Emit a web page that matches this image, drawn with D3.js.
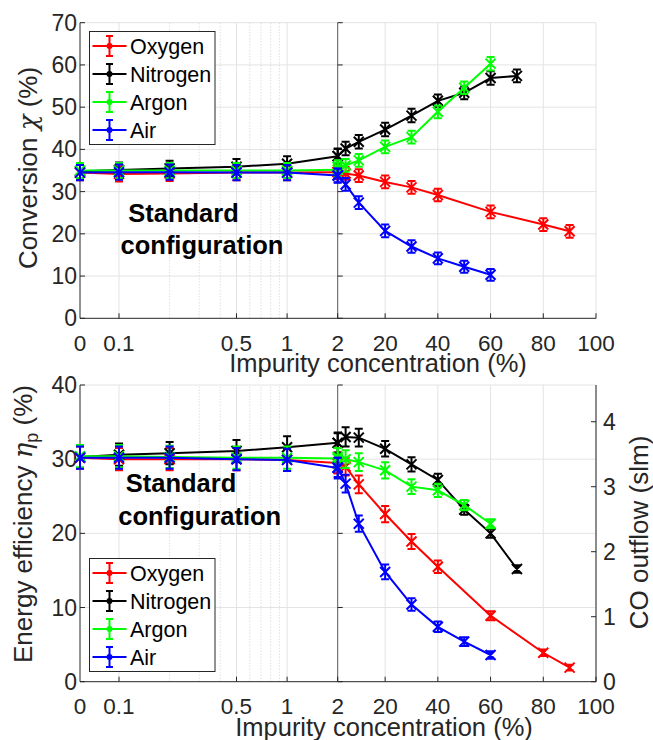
<!DOCTYPE html>
<html><head><meta charset="utf-8">
<script src="https://cdn.jsdelivr.net/npm/d3@7"></script>
<style>body{margin:0;background:#fff}svg{display:block}text{font-family:"Liberation Sans",Arial,Helvetica,sans-serif}</style>
</head><body><svg id="c" width="653" height="740"></svg>
<script>
// ---------- data ----------
const seriesNames = ["Oxygen", "Nitrogen", "Argon", "Air"];
const seriesColors = ["#ff0000", "#000000", "#00ff00", "#0000ff"];

const xLeftVals = [0, 0.1, 0.2, 0.5, 1, 2];
const xRightOxygen = [2, 5, 10, 20, 30, 40, 60, 80, 90];
const xRightNitrogen = [2, 5, 10, 20, 30, 40, 50, 60, 70];
const xRightArgon = [2, 5, 10, 20, 30, 40, 50, 60];
const xRightAir = [2, 5, 10, 20, 30, 40, 50, 60];

const xTicksLeft = [0, 0.1, 0.5, 1];
const xTickLabelsLeft = ["0", "0.1", "0.5", "1"];
const xMinorLeft = [0.2, 0.3, 0.4, 0.6, 0.7, 0.8, 0.9];
const xTicksRight = [2, 20, 40, 60, 80, 100];
const xLogMin = 0.0586;   // axis limit where "0" is drawn
const convTicks = [0, 10, 20, 30, 40, 50, 60, 70];
const effTicks = [0, 10, 20, 30, 40];
const coTicks = [0, 1, 2, 3, 4];
const coMax = 4.565;

// Conversion (%)
const convLeftOxygen = [34.5, 34.2, 34.3, 34.5, 34.5, 34.6];
const convLeftNitrogen = [34.8, 35.1, 35.5, 35.9, 36.6, 38.4];
const convLeftArgon = [35.0, 35.0, 35.0, 35.0, 35.0, 35.2];
const convLeftAir = [34.5, 34.6, 34.6, 34.5, 34.5, 33.8];
const convRightOxygen = [34.7, 34.3, 33.8, 32.3, 31.0, 29.2, 25.2, 22.2, 20.6];
const convRightNitrogen = [38.4, 40.2, 41.8, 44.7, 48.0, 51.5, 53.4, 56.9, 57.4];
const convRightArgon = [35.8, 36.2, 37.4, 40.6, 42.9, 48.9, 54.6, 60.3];
const convRightAir = [33.8, 31.7, 27.4, 20.7, 17.0, 14.2, 12.2, 10.3];

const convErrLeftOxygen = [1.8, 1.8, 1.8, 1.8, 1.8, 1.7];
const convErrLeftNitrogen = [1.8, 1.8, 1.8, 1.8, 1.8, 1.8];
const convErrLeftArgon = [1.8, 1.8, 1.8, 1.8, 1.8, 1.7];
const convErrLeftAir = [1.8, 1.8, 1.8, 1.8, 1.8, 1.7];
const convErrRightOxygen = [1.6, 1.5, 1.5, 1.5, 1.5, 1.5, 1.5, 1.5, 1.5];
const convErrRightNitrogen = [1.7, 1.6, 1.6, 1.6, 1.6, 1.5, 1.5, 1.6, 1.5];
const convErrRightArgon = [1.6, 1.5, 1.5, 1.5, 1.5, 1.5, 1.5, 1.6];
const convErrRightAir = [1.6, 1.5, 1.5, 1.5, 1.5, 1.4, 1.4, 1.4];

// Energy efficiency (%)
const effLeftOxygen = [30.2, 30.0, 30.0, 30.0, 29.9, 29.5];
const effLeftNitrogen = [30.3, 30.6, 30.8, 31.1, 31.6, 32.2];
const effLeftArgon = [30.4, 30.4, 30.3, 30.2, 30.2, 30.1];
const effLeftAir = [30.2, 30.2, 30.2, 30.0, 29.9, 28.8];
const effRightOxygen = [29.4, 29.0, 26.6, 22.6, 18.9, 15.5, 8.9, 3.9, 1.9];
const effRightNitrogen = [32.2, 33.0, 32.9, 31.4, 29.3, 27.2, 23.2, 20.0, 15.2];
const effRightArgon = [30.3, 30.0, 29.6, 28.5, 26.3, 25.8, 23.8, 21.3];
const effRightAir = [28.9, 26.7, 21.3, 14.8, 10.4, 7.4, 5.4, 3.6];

const effErrLeftOxygen = [1.5, 1.5, 1.5, 1.5, 1.5, 1.4];
const effErrLeftNitrogen = [1.5, 1.5, 1.5, 1.5, 1.5, 1.4];
const effErrLeftArgon = [1.5, 1.5, 1.5, 1.5, 1.5, 1.4];
const effErrLeftAir = [1.5, 1.5, 1.5, 1.5, 1.5, 1.4];
const effErrRightOxygen = [1.3, 1.2, 1.2, 1.1, 1.0, 0.85, 0.6, 0.45, 0.4];
const effErrRightNitrogen = [1.3, 1.3, 1.2, 1.05, 0.95, 0.85, 0.7, 0.6, 0.5];
const effErrRightArgon = [1.2, 1.2, 1.2, 1.1, 1.0, 0.9, 0.7, 0.6];
const effErrRightAir = [1.3, 1.2, 1.1, 1.0, 0.85, 0.7, 0.6, 0.5];

// ---------- layout ----------
const svg = d3.select("#c");
const X0 = 80, XM = 337.7, X1 = 596;
const axisColor = "#262626", gridColor = "#e3e3e3";

const xLog = d3.scaleLog().domain([xLogMin, 2]).range([X0, XM]);
const xLin = d3.scaleLinear().domain([2, 100]).range([XM, X1]);
const xLeft = v => v === 0 ? xLog(xLogMin) : xLog(v);

const xRights = [xRightOxygen, xRightNitrogen, xRightArgon, xRightAir];

const panels = [
  {
    y: d3.scaleLinear().domain([0, 70]).range([318.3, 22.7]),
    ticks: convTicks,
    left: [convLeftOxygen, convLeftNitrogen, convLeftArgon, convLeftAir],
    right: [convRightOxygen, convRightNitrogen, convRightArgon, convRightAir],
    errL: [convErrLeftOxygen, convErrLeftNitrogen, convErrLeftArgon, convErrLeftAir],
    errR: [convErrRightOxygen, convErrRightNitrogen, convErrRightArgon, convErrRightAir],
    legendY: 88, titleX: 378, ylabelX: 37, ylabelY: 168,
    std: [183.5, 221.5, 202, 253.5], rightAxis: false
  },
  {
    y: d3.scaleLinear().domain([0, 40]).range([681.7, 385]),
    ticks: effTicks,
    left: [effLeftOxygen, effLeftNitrogen, effLeftArgon, effLeftAir],
    right: [effRightOxygen, effRightNitrogen, effRightArgon, effRightAir],
    errL: [effErrLeftOxygen, effErrLeftNitrogen, effErrLeftArgon, effErrLeftAir],
    errR: [effErrRightOxygen, effErrRightNitrogen, effErrRightArgon, effErrRightAir],
    legendY: 615, titleX: 384, ylabelX: 32, ylabelY: 524,
    std: [181, 491.5, 199.7, 525], rightAxis: true
  }
];

panels.forEach((p, pi) => {
  const g = svg.append("g");
  const yS = p.y;
  const yB = yS.range()[0], yT = yS.range()[1];

  // grid
  const grid = g.append("g");
  grid.selectAll(".hg").data(p.ticks.slice(1)).join("line")
    .attr("x1", X0).attr("x2", X1).attr("y1", d => yS(d)).attr("y2", d => yS(d))
    .attr("stroke", gridColor).attr("stroke-width", 1);
  grid.selectAll(".vgL").data(xTicksLeft.slice(1)).join("line")
    .attr("x1", d => xLeft(d)).attr("x2", d => xLeft(d)).attr("y1", yB).attr("y2", yT)
    .attr("stroke", gridColor).attr("stroke-width", 1);
  grid.selectAll(".vgM").data(xMinorLeft).join("line")
    .attr("x1", d => xLeft(d)).attr("x2", d => xLeft(d)).attr("y1", yB).attr("y2", yT)
    .attr("stroke", "#d0d0d0").attr("stroke-width", 1).attr("stroke-dasharray", "1,2");
  grid.selectAll(".vgR").data(xTicksRight.slice(1)).join("line")
    .attr("x1", d => xLin(d)).attr("x2", d => xLin(d)).attr("y1", yB).attr("y2", yT)
    .attr("stroke", gridColor).attr("stroke-width", 1);

  // axes
  const ax = g.append("g").attr("stroke", axisColor).attr("stroke-width", 1);
  ax.append("line").attr("x1", X0).attr("x2", X0).attr("y1", yB).attr("y2", yT);
  ax.append("line").attr("x1", XM).attr("x2", XM).attr("y1", yB).attr("y2", yT).attr("stroke", "#555");
  ax.append("line").attr("x1", X0).attr("x2", X1).attr("y1", yB).attr("y2", yB);
  ax.selectAll(".ytk").data(p.ticks).join("path")
    .attr("d", d => `M${X0},${yS(d)}h5M${XM},${yS(d)}h5`);
  ax.selectAll(".xtkL").data(xTicksLeft.slice(1)).join("path")
    .attr("d", d => `M${xLeft(d)},${yB}v-5`);
  ax.selectAll(".xtkR").data(xTicksRight).join("path")
    .attr("d", d => `M${xLin(d)},${yB}v-5`);
  if (p.rightAxis) {
    const yCO = d3.scaleLinear().domain([0, coMax]).range([yB, yT]);
    ax.append("line").attr("x1", X1).attr("x2", X1).attr("y1", yB).attr("y2", yT);
    ax.selectAll(".rtk").data(coTicks).join("path").attr("d", d => `M${X1},${yCO(d)}h-5`);
    g.selectAll(".rtl").data(coTicks).join("text")
      .attr("x", 603).attr("y", d => yCO(d)).attr("dy", "0.35em")
      .attr("font-size", 23).attr("fill", axisColor).text(d => d);
    g.append("text").attr("transform", `translate(648,532.5) rotate(-90)`)
      .attr("text-anchor", "middle").attr("font-size", 26).attr("fill", axisColor)
      .text("CO outflow (slm)");
  }

  // tick labels
  g.selectAll(".ytl").data(p.ticks).join("text")
    .attr("x", 77).attr("y", d => yS(d)).attr("dy", "0.35em").attr("text-anchor", "end")
    .attr("font-size", 23).attr("fill", axisColor).text(d => d);
  g.selectAll(".xtlL").data(xTicksLeft).join("text")
    .attr("x", d => xLeft(d)).attr("y", yB + 32.5).attr("text-anchor", "middle")
    .attr("font-size", 22.5).attr("fill", axisColor).text((d, i) => xTickLabelsLeft[i]);
  g.selectAll(".xtlR").data(xTicksRight).join("text")
    .attr("x", d => xLin(d)).attr("y", yB + 32.5).attr("text-anchor", "middle")
    .attr("font-size", 22.5).attr("fill", axisColor).text(d => d);

  // axis titles
  g.append("text").attr("x", p.titleX).attr("y", yB + 54).attr("text-anchor", "middle")
    .attr("font-size", 25.5).attr("fill", axisColor).text("Impurity concentration (%)");
  const yl = g.append("text").attr("transform", `translate(${p.ylabelX},${p.ylabelY}) rotate(-90)`)
    .attr("text-anchor", "middle").attr("font-size", 26).attr("fill", axisColor);
  if (pi === 0) {
    yl.append("tspan").text("Conversion ");
    yl.append("tspan").attr("font-family", "DejaVu Serif").attr("font-style", "italic").text("χ");
    yl.append("tspan").text(" (%)");
  } else {
    yl.append("tspan").text("Energy efficiency ");
    yl.append("tspan").attr("font-family", "DejaVu Serif").attr("font-style", "italic").text("η");
    yl.append("tspan").attr("font-size", 18).attr("dy", 6).text("p");
    yl.append("tspan").attr("dy", -6).text(" (%)");
  }

  // series
  seriesNames.forEach((name, si) => {
    const col = seriesColors[si];
    const sg = g.append("g").attr("stroke", col).attr("fill", "none").attr("stroke-width", 2);
    const drawPart = (xs, xFn, vals, errs) => {
      const pts = vals.map((v, i) => ({ x: xFn(xs[i]), v, e: errs[i] }));
      sg.append("path").attr("d", d3.line().x(d => d.x).y(d => yS(d.v))(pts));
      sg.selectAll(null).data(pts).join("path")
        .attr("d", d => {
          const y0 = yS(d.v - d.e), y1 = yS(d.v + d.e), y = yS(d.v);
          return `M${d.x},${y0}V${y1}M${d.x - 4},${y0}h8M${d.x - 4},${y1}h8` +
                 `M${d.x - 5},${y - 5}l10,10M${d.x - 5},${y + 5}l10,-10`;
        });
    };
    drawPart(xLeftVals, xLeft, p.left[si], p.errL[si]);
    drawPart(xRights[si], xLin, p.right[si], p.errR[si]);
  });

  // annotation
  g.append("text").attr("x", p.std[0]).attr("y", p.std[1]).attr("text-anchor", "middle")
    .attr("font-size", 25.5).attr("font-weight", "bold").attr("fill", "#000").text("Standard");
  g.append("text").attr("x", p.std[2]).attr("y", p.std[3]).attr("text-anchor", "middle")
    .attr("font-size", 25.5).attr("font-weight", "bold").attr("fill", "#000").text("configuration");

  // legend
  const lg = g.append("g");
  const lh = 113;
  lg.append("rect").attr("x", 89.5).attr("y", p.legendY - lh / 2).attr("width", 125.5).attr("height", lh)
    .attr("fill", "#fff").attr("stroke", axisColor).attr("stroke-width", 1);
  seriesNames.forEach((name, si) => {
    const cy = p.legendY - 42 + si * 28;
    const col = seriesColors[si];
    const e = lg.append("g").attr("stroke", col).attr("stroke-width", 2).attr("fill", "none");
    e.append("path").attr("d", `M92.5,${cy}H126.5M109.5,${cy - 10}V${cy + 10}M106,${cy - 10}h7M106,${cy + 10}h7`);
    lg.append("circle").attr("cx", 109.5).attr("cy", cy).attr("r", 3).attr("fill", col);
    lg.append("text").attr("x", 130).attr("y", cy).attr("dy", "0.36em")
      .attr("font-size", 21.5).attr("fill", "#000").text(name);
  });
});
</script></body></html>
